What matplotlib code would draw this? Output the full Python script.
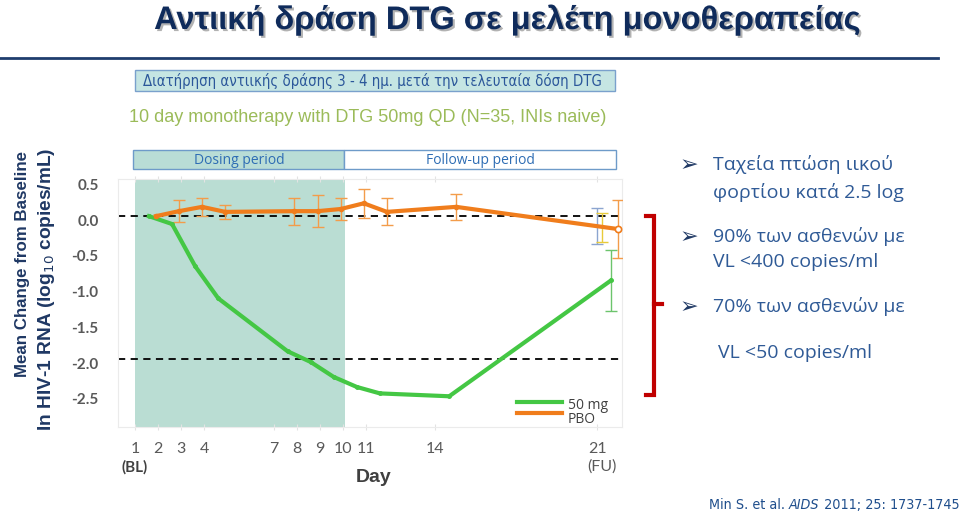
import matplotlib
matplotlib.use("Agg")
import matplotlib.pyplot as plt
from matplotlib.lines import Line2D
from matplotlib.patches import Rectangle
from matplotlib import patheffects as pe
from matplotlib.transforms import ScaledTranslation

# data
days = [1, 2, 3, 4, 7, 8, 9, 10, 11, 14, 21]
day_labels = ["1", "2", "3", "4", "7", "8", "9", "10", "11", "14", "21"]
dtg_50mg = [0.0, -0.11, -0.70, -1.15, -1.89, -2.04, -2.25, -2.39, -2.48, -2.52, -0.90]
dtg_fu_err = 0.43
pbo = [0.0, 0.07, 0.13, 0.06, 0.07, 0.07, 0.10, 0.18, 0.06, 0.13, -0.18]
pbo_err = [0.0, 0.15, 0.13, 0.10, 0.19, 0.22, 0.15, 0.20, 0.19, 0.18, 0.40]
other_fu = [-0.14, -0.16]          # other dose arms, only shown at follow-up
other_fu_err = [0.25, 0.20]
yticks = [0.5, 0.0, -0.5, -1.0, -1.5, -2.0, -2.5]
dosing_span = (1.0, 10.1)

GREEN = "#44C744"
ORANGE = "#F07D1C"
ORANGE_E = "#F39C4A"
SHADE = "#BADDD3"
BLUE_TXT = "#2F5A96"
NAVY = "#1F3864"
GRAY = "#595959"
COND = dict(family="DejaVu Sans", fontstretch="condensed")

W, H = 960, 514


def fx(px):
    return px / W


def fy(py):
    return 1 - py / H


fig = plt.figure(figsize=(9.6, 5.14), dpi=100)
ax = fig.add_axes([fx(118), fy(427), fx(622) - fx(118), fy(179) - fy(427)])
ax.set_xlim(0.26, 22.08)
ax.set_ylim(-2.95, 0.52)

ax.axvspan(*dosing_span, color=SHADE, lw=0, zorder=0)
for yv in (0.0, -2.0):
    ax.axhline(yv, color="black", ls=(0, (4, 3)), lw=1.3, zorder=2)

g_x = [d + 0.6 for d in days]
o_x = [d + 0.9 for d in days]

ax.errorbar(o_x[1:], pbo[1:], yerr=pbo_err[1:], fmt="none", ecolor=ORANGE_E,
            elinewidth=1, capsize=4.5, capthick=1, zorder=3)
ax.errorbar([days[-1]], [other_fu[0]], yerr=[other_fu_err[0]], fmt="none",
            ecolor="#8CA5D0", elinewidth=1, capsize=4.5, capthick=1, zorder=3)
ax.errorbar([days[-1] + 0.22], [other_fu[1]], yerr=[other_fu_err[1]], fmt="none",
            ecolor="#E8CB3A", elinewidth=1, capsize=4.5, capthick=1, zorder=3)
ax.errorbar([g_x[-1]], [dtg_50mg[-1]], yerr=[dtg_fu_err], fmt="none",
            ecolor="#6CC46C", elinewidth=1, capsize=4.5, capthick=1, zorder=3)

ax.plot(g_x, dtg_50mg, color=GREEN, lw=3, marker="o", ms=2.5, zorder=4)
ax.plot(o_x, pbo, color=ORANGE, lw=3, marker="o", ms=3, zorder=5)
ax.plot(o_x[-1], pbo[-1], "o", mfc="white", mec=ORANGE, mew=1.2, ms=4.5, zorder=6)

# axes styling
for s in ax.spines.values():
    s.set_color("#EBEBEB")
ax.set_xticks(days, day_labels)
ax.set_yticks(yticks, [f"{v:.1f}" for v in yticks])
ax.tick_params(axis="x", length=4, direction="inout", color="#E3E3E3", top=True,
               pad=9, labelsize=11.5, labelcolor=GRAY)
ax.tick_params(axis="y", length=0, pad=14, labelsize=11, labelcolor=GRAY)
for lbl in ax.get_xticklabels():
    lbl.set_fontfamily("Lato")
shift = ScaledTranslation(0, -0.04, fig.dpi_scale_trans)
for lbl in ax.get_yticklabels():
    lbl.set_fontfamily("Lato")
    lbl.set_fontweight("bold")
    lbl.set_transform(lbl.get_transform() + shift)

ax.text(1, -0.161, "(BL)", transform=ax.get_xaxis_transform(), ha="center",
        va="center", fontsize=11, fontweight="bold", color="#404040", family="Lato")
ax.text(21.2, -0.161, "(FU)", transform=ax.get_xaxis_transform(), ha="center",
        va="center", fontsize=11.5, color=GRAY, family="Lato")
fig.text(fx(374), fy(478), "Day", ha="center", va="center", fontsize=14,
         fontweight="bold", color="#404040", family="Liberation Sans")

# legend
ax.add_line(Line2D([0.792, 0.881], [0.099, 0.099], transform=ax.transAxes,
                   color=GREEN, lw=3))
ax.add_line(Line2D([0.792, 0.881], [0.057, 0.057], transform=ax.transAxes,
                   color=ORANGE, lw=3))
ax.text(0.893, 0.088, "50 mg", transform=ax.transAxes, ha="left", va="center",
        fontsize=10, color="#404040", family="Open Sans")
ax.text(0.893, 0.030, "PBO", transform=ax.transAxes, ha="left", va="center",
        fontsize=10, color="#404040", family="Open Sans")

# y label
fig.text(fx(23), fy(264), "Mean Change from Baseline", rotation=90, ha="center",
         va="center", fontsize=12.2, fontweight="bold", color=NAVY, family="Liberation Sans")
fig.text(fx(47), fy(289), "In HIV-1 RNA (log$_{10}$ copies/mL)", rotation=90,
         ha="center", va="center", fontsize=13.8, fontweight="bold", color=NAVY,
         family="Liberation Sans")

# period boxes
fig.patches.append(Rectangle((fx(133), fy(169)), fx(344) - fx(133), fy(150) - fy(169),
                             transform=fig.transFigure, facecolor="#B9DDD6",
                             edgecolor="#6E9BC9", lw=1))
fig.patches.append(Rectangle((fx(344), fy(169)), fx(616) - fx(344), fy(150) - fy(169),
                             transform=fig.transFigure, facecolor="white",
                             edgecolor="#6E9BC9", lw=1))
fig.text(fx(239), fy(160), "Dosing period", ha="center", va="center", fontsize=10,
         color="#2E6DB4", family="Open Sans")
fig.text(fx(480), fy(160), "Follow-up period", ha="center", va="center", fontsize=10,
         color="#2E6DB4", family="Open Sans")

# title block
fig.text(fx(507), fy(20), "Αντιική δράση DTG σε μελέτη μονοθεραπείας", ha="center",
         va="center", fontsize=23.5, fontweight="bold", color="#0F2B5B",
         family="Liberation Sans",
         path_effects=[pe.withSimplePatchShadow(offset=(1.5, -1.5),
                                                shadow_rgbFace="#808080", alpha=0.6)])
fig.add_artist(Line2D([0, fx(938)], [fy(58), fy(58)], transform=fig.transFigure,
                      color="#1F3D6E", lw=2))
fig.patches.append(Rectangle((fx(135), fy(91)), fx(615) - fx(135), fy(70) - fy(91),
                             transform=fig.transFigure, facecolor="#C5E5E3",
                             edgecolor="#7AA1CC", lw=1))
fig.text(fx(372), fy(81), "Διατήρηση αντιικής δράσης 3 - 4 ημ. μετά την τελευταία δόση DTG",
         ha="center", va="center", fontsize=10.7, color="#2B579A", **COND)
fig.text(fx(368), fy(117), "10 day monotherapy with DTG 50mg QD (N=35, INIs naive)",
         ha="center", va="center", fontsize=13, color="#9BBB59", family="Liberation Sans")

# right-hand notes
bullets = [(165, True, 713, "Ταχεία πτώση ιικού"),
           (192, False, 713, "φορτίου κατά 2.5 log"),
           (237, True, 713, "90% των ασθενών με"),
           (262, False, 713, "VL <400 copies/ml"),
           (307, True, 713, "70% των ασθενών με"),
           (353, False, 718, "VL <50 copies/ml")]
for yy, arrow, xx, txt in bullets:
    if arrow:
        fig.text(fx(689), fy(yy), "➢", ha="center", va="center", fontsize=16,
                 color=NAVY, family="DejaVu Sans")
    fig.text(fx(xx), fy(yy), txt, ha="left", va="center", fontsize=14,
             color=BLUE_TXT, family="Open Sans")

fig.add_artist(Line2D([fx(646), fx(654), fx(654), fx(646)],
                      [fy(216), fy(216), fy(395), fy(395)],
                      transform=fig.transFigure, color="#C00000", lw=3,
                      solid_joinstyle="miter"))
fig.add_artist(Line2D([fx(654), fx(662)], [fy(304), fy(304)],
                      transform=fig.transFigure, color="#C00000", lw=3))

# citation
cite_kw = dict(fontsize=10.3, color="#1F4E8C", va="bottom", **COND)
t1 = fig.text(fx(709), fy(512), "Min S. et al. ", ha="left", **cite_kw)
t2 = ax.annotate("AIDS", xy=(1, 0), xycoords=t1, style="italic", ha="left",
                 annotation_clip=False, **cite_kw)
ax.annotate(" 2011; 25: 1737-1745", xy=(1, 0), xycoords=t2, ha="left",
            annotation_clip=False, **cite_kw)

fig.savefig("out.png", dpi=100)
